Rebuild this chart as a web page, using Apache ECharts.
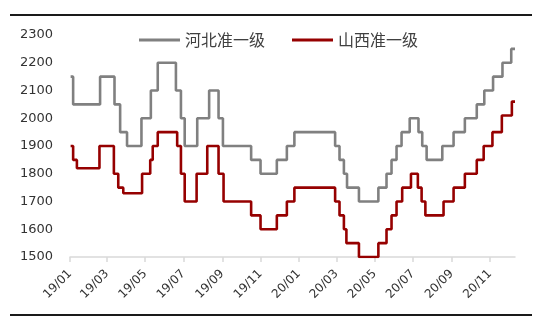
<!DOCTYPE html>
<html>
<head>
<meta charset="utf-8">
<script src="https://cdn.jsdelivr.net/npm/echarts@6/dist/echarts.min.js"></script>
<style>
  html, body { margin: 0; padding: 0; background: #ffffff; }
  #chart { width: 554px; height: 327px; }
</style>
</head>
<body>
<div id="chart"></div>
<script>
// Price adjustment dates and the price in force from each date (元/吨)
const hebeiDates = [
  '2019-01-02','2019-01-06','2019-02-18','2019-03-13','2019-03-22','2019-04-02',
  '2019-04-25','2019-05-10','2019-05-21','2019-06-19','2019-06-27','2019-07-03',
  '2019-07-23','2019-08-11','2019-08-26','2019-09-02','2019-10-17','2019-11-01',
  '2019-11-27','2019-12-13','2019-12-25','2020-02-28','2020-03-06','2020-03-13',
  '2020-03-18','2020-04-06','2020-05-07','2020-05-20','2020-05-28','2020-06-05',
  '2020-06-13','2020-06-26','2020-07-10','2020-07-16','2020-07-23','2020-08-17',
  '2020-09-04','2020-09-22','2020-10-11','2020-10-23','2020-11-06','2020-11-21',
  '2020-12-05','2020-12-11'
];
const hebeiValues = [
  2150, 2050, 2150, 2050, 1950, 1900,
  2000, 2100, 2200, 2100, 2000, 1900,
  2000, 2100, 2000, 1900, 1850, 1800,
  1850, 1900, 1950, 1900, 1850, 1800,
  1750, 1700, 1750, 1800, 1850, 1900,
  1950, 2000, 1950, 1900, 1850, 1900,
  1950, 2000, 2050, 2100, 2150, 2200,
  2250, 2250
];

const shanxiDates = [
  '2019-01-02','2019-01-06','2019-01-12','2019-02-17','2019-03-12','2019-03-19',
  '2019-03-27','2019-04-26','2019-05-09','2019-05-13','2019-05-21','2019-06-21',
  '2019-06-27','2019-07-03','2019-07-22','2019-08-08','2019-08-26','2019-09-03',
  '2019-10-17','2019-11-01','2019-11-27','2019-12-13','2019-12-25','2020-02-28',
  '2020-03-06','2020-03-13','2020-03-17','2020-04-06','2020-05-07','2020-05-20',
  '2020-05-28','2020-06-05','2020-06-14','2020-06-28','2020-07-09','2020-07-15',
  '2020-07-21','2020-08-19','2020-09-04','2020-09-22','2020-10-11','2020-10-22',
  '2020-11-05','2020-11-20','2020-12-06','2020-12-11'
];
const shanxiValues = [
  1900, 1850, 1820, 1900, 1800, 1750,
  1730, 1800, 1850, 1900, 1950, 1900,
  1800, 1700, 1800, 1900, 1800, 1700,
  1650, 1600, 1650, 1700, 1750, 1700,
  1650, 1600, 1550, 1500, 1550, 1600,
  1650, 1700, 1750, 1800, 1750, 1700,
  1650, 1700, 1750, 1800, 1850, 1900,
  1950, 2010, 2060, 2060
];

// Months that carry a tick and a label on the date axis
const tickMonths = [
  '2019-01','2019-03','2019-05','2019-07','2019-09','2019-11',
  '2020-01','2020-03','2020-05','2020-07','2020-09','2020-11'
];
const seriesNames = ['河北准一级', '山西准一级'];
const seriesColors = ['#808080', '#960000'];
const axisStart = '2019-01-01';
const axisEnd = '2020-12-11';

// Dates are placed on a numeric axis as local-time milliseconds
function toTime(s) {
  const p = s.split('-').map(Number);
  return new Date(p[0], p[1] - 1, p[2] || 1).getTime();
}
const tickValues = tickMonths.map(toTime);

function pairs(dates, values) {
  return dates.map((d, i) => [toTime(d), values[i]]);
}

const chart = echarts.init(document.getElementById('chart'), null, { renderer: 'canvas' });

chart.setOption({
  animation: false,
  backgroundColor: '#ffffff',
  color: seriesColors,
  grid: { left: 70, right: 39, top: 35, bottom: 70 },
  legend: {
    data: seriesNames.map(n => ({ name: n, icon: 'rect' })),
    left: 134,
    top: 26,
    itemWidth: 41,
    itemHeight: 3,
    itemGap: 27,
    textStyle: { fontFamily: 'Noto Sans CJK SC', fontSize: 16, color: '#404040', lineHeight: 18 }
  },
  xAxis: {
    type: 'value',
    min: toTime(axisStart),
    max: toTime(axisEnd),
    axisLine: { show: true, lineStyle: { color: '#d9d9d9', width: 1.5 } },
    axisTick: { show: true, length: 5, lineStyle: { color: '#d9d9d9', width: 1.5 }, customValues: tickValues },
    splitLine: { show: false },
    axisLabel: {
      customValues: tickValues,
      rotate: 45,
      margin: 15,
      fontFamily: 'DejaVu Sans',
      fontSize: 12,
      color: '#333333',
      formatter: function (v) {
        const d = new Date(v);
        const yy = String(d.getFullYear()).slice(2);
        const mm = String(d.getMonth() + 1).padStart(2, '0');
        return yy + '/' + mm;
      }
    }
  },
  yAxis: {
    type: 'value',
    min: 1500,
    max: 2300,
    interval: 100,
    axisLine: { show: false },
    axisTick: { show: false },
    splitLine: { show: false },
    axisLabel: {
      margin: 17,
      fontFamily: 'DejaVu Sans',
      fontSize: 13,
      color: '#333333',
      formatter: v => String(v)
    }
  },
  series: [
    {
      name: seriesNames[0],
      type: 'line',
      step: 'end',
      symbol: 'none',
      lineStyle: { width: 2.6, color: seriesColors[0] },
      data: pairs(hebeiDates, hebeiValues)
    },
    {
      name: seriesNames[1],
      type: 'line',
      step: 'end',
      symbol: 'none',
      lineStyle: { width: 2.6, color: seriesColors[1] },
      data: pairs(shanxiDates, shanxiValues)
    }
  ],
  graphic: [
    { type: 'line', shape: { x1: 10, y1: 15, x2: 532, y2: 15 }, style: { stroke: '#1a1a1a', lineWidth: 2 } },
    { type: 'line', shape: { x1: 10, y1: 315, x2: 532, y2: 315 }, style: { stroke: '#1a1a1a', lineWidth: 2 } }
  ]
});
</script>
</body>
</html>
